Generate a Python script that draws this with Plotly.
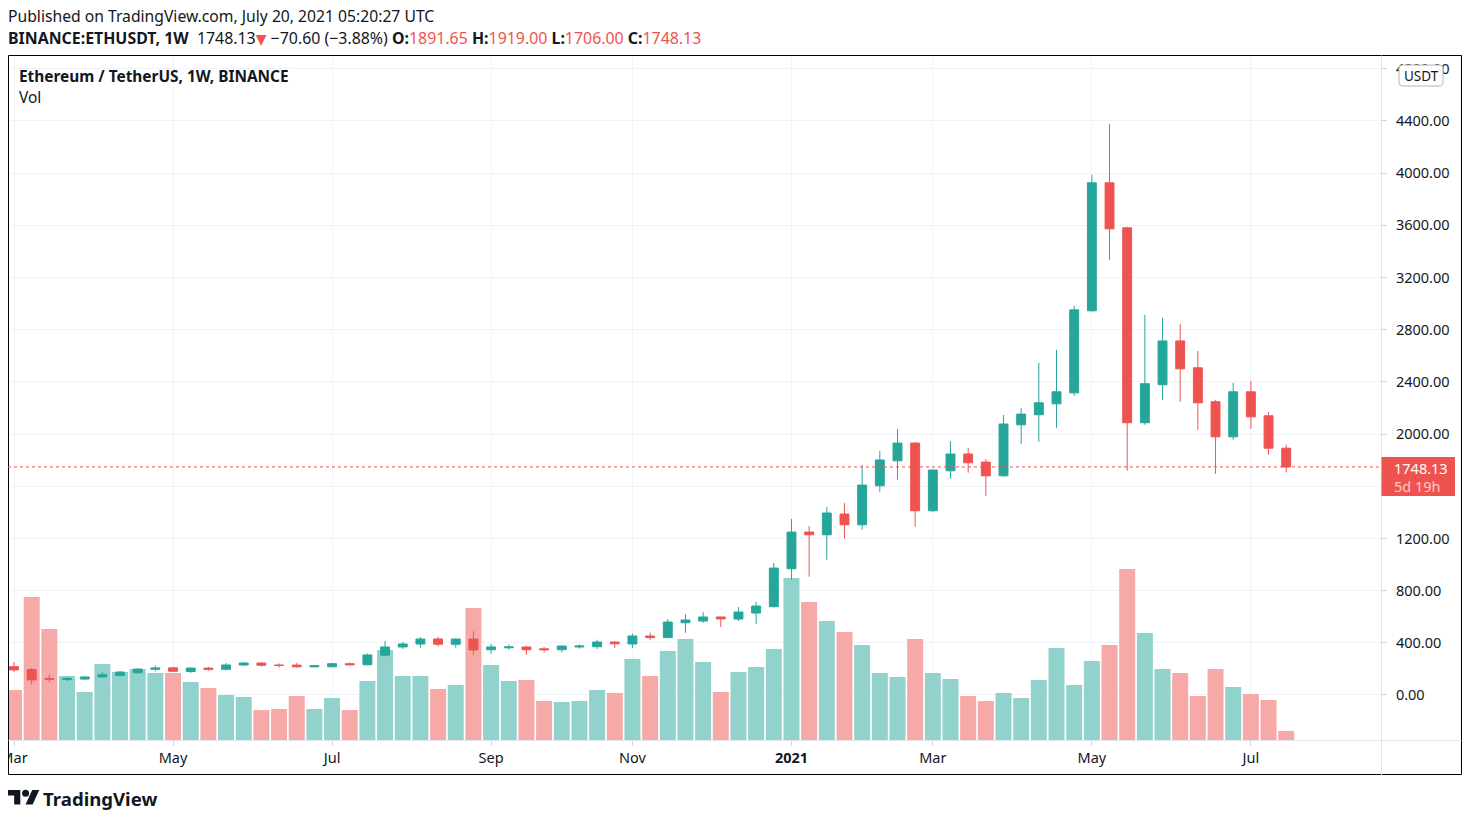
import pandas as pd
import plotly.graph_objects as go

# ---------------- data ----------------
dates = pd.date_range("2020-03-02", periods=73, freq="7D")

opens = [217, 195, 124, 118, 122, 138, 150, 170, 197, 208, 180, 206, 197, 230, 245, 230, 229, 216, 216, 240,
         232, 305, 368, 391, 429, 389, 429, 347, 362, 368, 354, 347, 368, 370, 406, 391, 452, 440, 554, 567,
         598, 582, 628, 677, 968, 1249, 1228, 1387, 1305, 1604, 1795, 1931, 1412, 1719, 1847, 1785, 1680, 2071,
         2148, 2232, 2316, 2945, 3926, 3581, 2087, 2378, 2714, 2508, 2248, 1979, 2324, 2140, 1891.65]
highs = [253, 208, 153, 138, 146, 176, 184, 201, 225, 216, 210, 215, 245, 253, 250, 242, 246, 230, 246, 250,
         318, 415, 406, 444, 445, 432, 488, 392, 388, 375, 368, 377, 388, 424, 410, 470, 478, 582, 621, 636,
         600, 674, 713, 1011, 1349, 1295, 1441, 1471, 1762, 1870, 2038, 1939, 1730, 1946, 1893, 1808, 2146, 2199,
         2546, 2646, 2983, 3987, 4378, 3590, 2914, 2891, 2845, 2638, 2263, 2393, 2408, 2171, 1919.00]
lows = [175, 82, 98, 107, 116, 133, 140, 163, 180, 178, 168, 185, 188, 222, 218, 210, 210, 212, 214, 226,
        228, 296, 352, 362, 372, 363, 305, 316, 347, 309, 327, 327, 355, 353, 360, 360, 421, 437, 477, 554,
        521, 567, 546, 670, 883, 907, 1037, 1198, 1267, 1558, 1650, 1290, 1405, 1658, 1704, 1527, 1673, 1926,
        1941, 2048, 2293, 2940, 3336, 1719, 2071, 2263, 2248, 2033, 1696, 1956, 2041, 1841, 1706.00]
closes = [192, 116, 122, 127, 138, 155, 176, 199, 207, 182, 206, 197, 230, 245, 228, 226, 216, 225, 240, 232,
          307, 368, 391, 429, 389, 429, 345, 368, 368, 347, 347, 375, 375, 406, 393, 452, 440, 559, 575, 598,
          583, 636, 682, 973, 1249, 1228, 1395, 1305, 1609, 1801, 1931, 1412, 1724, 1847, 1780, 1680, 2077, 2153,
          2240, 2324, 2952, 3926, 3573, 2087, 2386, 2714, 2500, 2240, 1979, 2324, 2132, 1892, 1748.13]
# weekly volume, millions of ETH
volumes = [10.0, 28.6, 22.2, 12.8, 9.6, 15.2, 13.6, 14.2, 13.4, 13.4, 11.6, 10.4, 9.0, 8.6, 6.0, 6.2, 8.8, 6.2,
           8.4, 6.0, 11.8, 18.0, 12.8, 12.8, 10.2, 11.0, 26.4, 15.0, 11.8, 12.0, 7.8, 7.6, 7.8, 10.0, 9.4, 16.2,
           12.8, 17.8, 20.2, 15.6, 9.6, 13.6, 14.6, 18.2, 32.4, 27.6, 23.8, 21.6, 19.0, 13.4, 12.6, 20.2, 13.4,
           12.2, 8.8, 7.8, 9.4, 8.4, 12.0, 18.4, 11.0, 15.8, 19.0, 34.2, 21.4, 14.2, 13.4, 8.8, 14.2, 10.6, 9.2,
           8.0, 1.8]

month_ticks = ["2020-03-02", "2020-05-04", "2020-07-06", "2020-09-07", "2020-11-02",
               "2021-01-04", "2021-03-01", "2021-05-03", "2021-07-05"]
month_labels = ["Mar", "May", "Jul", "Sep", "Nov", "<b>2021</b>", "Mar", "May", "Jul"]
price_ticks = [0, 400, 800, 1200, 1600, 2000, 2400, 2800, 3200, 3600, 4000, 4400, 4800]
price_labels = [f"{v:.2f}" for v in price_ticks]

last_price = 1748.13
title_text = "Ethereum / TetherUS, 1W, BINANCE"

# ---------------- style ----------------
UP = "#26a69a"
DOWN = "#ef5350"
UP_VOL = "#92d2cc"
DOWN_VOL = "#f7a9a7"
GRID = "#f0f3fa"
AXLINE = "#e0e3eb"
TXT = "#131722"
FONT = "Noto Sans, Open Sans, sans-serif"

# page coordinates (the page body has an 8px margin, so the figure starts at 8,8)
OFF = 8
PAGE_W, PAGE_H = 1470, 822
W, H = PAGE_W - OFF, PAGE_H - OFF
PL, PR, PT, PB = 8, 1381, 56, 740
PW, PH = PR - PL, PB - PT


def fx(px):
    return (px - PL) / PW


def fy(py):
    return (PB - py) / PH


vol_colors = [UP_VOL if c >= o else DOWN_VOL for o, c in zip(opens, closes)]
week_ms = 7 * 24 * 3600 * 1000

fig = go.Figure()
fig.add_trace(go.Bar(x=dates, y=volumes, marker=dict(color=vol_colors, line=dict(width=0)),
                     width=week_ms * 0.905, yaxis="y", hoverinfo="skip", showlegend=False))
fig.add_trace(go.Candlestick(x=dates, open=opens, high=highs, low=lows, close=closes, yaxis="y2",
                             increasing=dict(line=dict(color=UP, width=1), fillcolor=UP),
                             decreasing=dict(line=dict(color=DOWN, width=1), fillcolor=DOWN),
                             whiskerwidth=0, hoverinfo="skip", showlegend=False))

x_start = dates[0] - pd.Timedelta(days=2.38)
x_end = dates[-1] + pd.Timedelta(days=37.55)


def rrect(x0, y0, x1, y1, r):
    pts = [("M", x0 + r, y0), ("L", x1 - r, y0), ("Q", x1, y0, x1, y0 + r), ("L", x1, y1 - r),
           ("Q", x1, y1, x1 - r, y1), ("L", x0 + r, y1), ("Q", x0, y1, x0, y1 - r), ("L", x0, y0 + r),
           ("Q", x0, y0, x0 + r, y0)]
    s = ""
    for p in pts:
        cmd = p[0]
        coords = p[1:]
        parts = []
        for i in range(0, len(coords), 2):
            parts.append(f"{fx(coords[i]):.6f},{fy(coords[i+1]):.6f}")
        s += cmd + " " + " ".join(parts) + " "
    return s + "Z"


def poly(points):
    return "M " + " L ".join(f"{fx(a):.6f},{fy(b):.6f}" for a, b in points) + " Z"


# TradingView logo geometry (from 36x28 logo), placed bottom-left
lsx, lsy, lox, loy = 0.88, 0.8, 8, 786.8
T_pts = [(14, 22), (7, 22), (7, 11), (0, 11), (0, 4), (14, 4)]
P_pts = [(28, 22), (20, 22), (27.5, 4), (35.5, 4)]
T_px = [(lox + a * lsx, loy + b * lsy) for a, b in T_pts]
P_px = [(lox + a * lsx, loy + b * lsy) for a, b in P_pts]
cx, cy, cr = lox + 20 * lsx, loy + 8 * lsy, 4 * lsx

shapes = [
    # outer frame
    dict(type="rect", xref="paper", yref="paper", x0=fx(8.5), x1=fx(1461.5), y0=fy(774.5), y1=fy(55.5),
         line=dict(color="#000000", width=1), layer="above"),
    # price-scale separator
    dict(type="line", xref="paper", yref="paper", x0=fx(1381.5), x1=fx(1381.5), y0=fy(775), y1=fy(55.5),
         line=dict(color=AXLINE, width=1), layer="above"),
    # time-scale separator
    dict(type="line", xref="paper", yref="paper", x0=fx(8.5), x1=fx(1461.5), y0=fy(740.5), y1=fy(740.5),
         line=dict(color=AXLINE, width=1), layer="above"),
    # last price dotted line
    dict(type="line", xref="paper", yref="y2", x0=0, x1=1, y0=last_price, y1=last_price,
         line=dict(color=DOWN, width=1, dash="dot"), layer="above"),
    # last price label box
    dict(type="rect", xref="paper", yref="paper", x0=fx(1381.5), x1=fx(1455), y0=fy(496), y1=fy(457),
         fillcolor=DOWN, line=dict(width=0), layer="above"),
    # USDT badge
    dict(type="path", xref="paper", yref="paper", path=rrect(1399, 65, 1443, 86, 4),
         fillcolor="#ffffff", line=dict(color="#b2b5be", width=1), layer="above"),
    # logo
    dict(type="path", xref="paper", yref="paper", path=poly(T_px), fillcolor=TXT, line=dict(width=0)),
    dict(type="path", xref="paper", yref="paper", path=poly(P_px), fillcolor=TXT, line=dict(width=0)),
    dict(type="circle", xref="paper", yref="paper", x0=fx(cx - cr), x1=fx(cx + cr), y0=fy(cy + cr),
         y1=fy(cy - cr), fillcolor=TXT, line=dict(width=0)),
]

red = DOWN
header2 = (f"<b>BINANCE:ETHUSDT, 1W</b>  1748.13<span style='color:{red};font-family:DejaVu Sans;"
           f"font-size:14px'>▼</span> −70.60 (−3.88%) "
           f"<b>O:</b><span style='color:{red}'>1891.65</span> <b>H:</b><span style='color:{red}'>1919.00</span> "
           f"<b>L:</b><span style='color:{red}'>1706.00</span> <b>C:</b><span style='color:{red}'>1748.13</span>")


def ann(px, py, text, size=14, color=TXT, xanchor="left", family=FONT):
    return dict(xref="paper", yref="paper", x=fx(px), y=fy(py), text=text, showarrow=False,
                xanchor=xanchor, yanchor="middle", font=dict(family=family, size=size, color=color),
                borderpad=0)


annotations = [
    ann(7, 16.5, "Published on TradingView.com, July 20, 2021 05:20:27 UTC", size=15.7),
    ann(7, 38, header2, size=15.9),
    ann(18, 76, f"<b>{title_text}</b>", size=15.4),
    ann(18, 97, "Vol", size=15.5),
    ann(1393, 467.5, f"{last_price:.2f}", size=14.5, color="#ffffff"),
    ann(1393, 486, "5d 19h", size=14.5, color="rgba(255,255,255,0.72)"),
    ann(1421, 75.5, "USDT", size=13.5, xanchor="center"),
    ann(42, 798, "<b>TradingView</b>", size=18.6),
]

fig.update_layout(
    width=W, height=H,
    margin=dict(l=PL - OFF, r=W - (PR - OFF), t=PT - OFF, b=H - (PB - OFF), autoexpand=False),
    paper_bgcolor="#ffffff", plot_bgcolor="#ffffff",
    font=dict(family=FONT, size=14, color=TXT),
    showlegend=False, hovermode=False,
    boxgap=0.28,
    xaxis=dict(type="date", range=[x_start, x_end], tickmode="array", tickvals=month_ticks,
               ticktext=month_labels, showgrid=True, gridcolor=GRID, gridwidth=1, zeroline=False,
               showline=False, ticks="outside", ticklen=5, tickcolor="#d1d4dc", automargin=False,
               ticklabeloverflow="allow", tickfont=dict(size=14.5, color=TXT),
               rangeslider=dict(visible=False), fixedrange=True),
    yaxis=dict(range=[0, max(volumes) * PH / 171.0], visible=False, fixedrange=True),
    yaxis2=dict(overlaying="y", side="right", range=[-345, 4898], tickmode="array", tickvals=price_ticks,
                ticktext=price_labels, showgrid=True, gridcolor=GRID, gridwidth=1, zeroline=False,
                showline=False, ticks="outside", ticklen=5, tickcolor="#d1d4dc", ticklabelstandoff=6,
                automargin=False, tickfont=dict(size=14.5, color=TXT), fixedrange=True),
    shapes=shapes,
    annotations=annotations,
)

fig.write_html("out.html", config={"displayModeBar": False})
